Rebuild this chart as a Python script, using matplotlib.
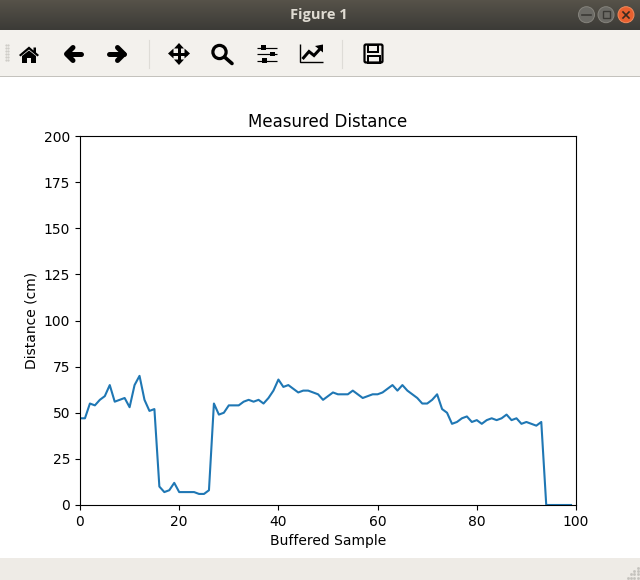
import numpy as np
import matplotlib
matplotlib.use('Agg')
import matplotlib.pyplot as plt
from matplotlib.patches import Circle, Polygon, Rectangle, FancyBboxPatch

# distance readings
distance = [47, 47, 55, 54, 57, 59, 65, 56, 57, 58,
            53, 65, 70, 57, 51, 52, 10, 7, 8, 12,
            7, 7, 7, 7, 6, 6, 8, 55, 49, 50,
            54, 54, 54, 56, 57, 56, 57, 55, 58, 62,
            68, 64, 65, 63, 61, 62, 62, 61, 60, 57,
            59, 61, 60, 60, 60, 62, 60, 58, 59, 60,
            60, 61, 63, 65, 62, 65, 62, 60, 58, 55,
            55, 57, 60, 52, 50, 44, 45, 47, 48, 45,
            46, 44, 46, 47, 46, 47, 49, 46, 47, 44,
            45, 44, 43, 45, 0, 0, 0, 0, 0, 0]
samples = list(range(len(distance)))
chart_title = 'Measured Distance'
x_label = 'Buffered Sample'
y_label = 'Distance (cm)'
window_title = 'Figure 1'

W, H = 640, 580
ICON = 'black'
PX = 0.72  # one pixel in points at dpi 100

fig = plt.figure(figsize=(W / 100, H / 100), dpi=100, facecolor='white')

# window chrome, in pixel coordinates
win = fig.add_axes([0, 0, 1, 1], zorder=0)
win.set_xlim(0, W)
win.set_ylim(H, 0)
win.axis('off')

grad = np.linspace(0, 1, 30).reshape(-1, 1)
win.imshow(grad, extent=[0, W, 30, 0], cmap=matplotlib.colors.LinearSegmentedColormap.from_list(
    'bar', ['#565249', '#3c3b37']), aspect='auto', zorder=1)
win.set_xlim(0, W)
win.set_ylim(H, 0)
win.add_patch(Rectangle((0, 30), W, 46, fc='#f3f1ed', ec='none', zorder=1))
win.add_patch(Rectangle((0, 76), W, 1, fc='#c4c2bd', ec='none', zorder=1))
win.add_patch(Rectangle((0, 558), W, 22, fc='#eeebe6', ec='none', zorder=1))
win.text(319, 15, window_title, color='#dfdbd2', fontsize=10.5, fontweight='bold',
         family='Open Sans', ha='center', va='center', zorder=3)

for cx, col, ec in [(586.5, '#6b6a65', '#85837c'), (606, '#6b6a65', '#85837c'), (626, '#e9602f', '#f08a5d')]:
    win.add_patch(Circle((cx, 14.7), 8, fc=col, ec=ec, lw=0.7, zorder=3))
win.plot([582, 591], [15, 15], color='#3a3935', lw=1.2, zorder=4)
win.add_patch(Rectangle((602.5, 11), 7, 7, fc='none', ec='#3a3935', lw=1, zorder=4))
win.plot([623, 629], [12, 18], color='#3a2a20', lw=1.2, zorder=4)
win.plot([623, 629], [18, 12], color='#3a2a20', lw=1.2, zorder=4)

# grip and separators
for yy in range(45, 62, 3):
    win.plot([5.5, 8], [yy, yy], ls='none', marker='s', ms=0.6, color='#cfcdc8', zorder=3)
for sx in [148.5, 342]:
    win.plot([sx, sx], [40, 68], color='#dedcd7', lw=0.8, zorder=3)
for i in range(4):
    for j in range(i + 1):
        win.plot(637.5 - 3.2 * j, 577.5 - 3.2 * (i - j), ls='none', marker='s', ms=0.9,
                 color='#c4c2bd', zorder=3)


def stroke(xs, ys, w=2, cap='butt', join='miter'):
    win.plot(xs, ys, color=ICON, lw=w * PX, solid_capstyle=cap, solid_joinstyle=join, zorder=4)


def solid(pts):
    win.add_patch(Polygon(pts, closed=True, fc=ICON, ec='none', zorder=4))


# home
solid([(19, 55), (29, 46.5), (33.5, 50.5), (33.5, 47.5), (36, 47.5), (36, 52.5), (39, 55),
       (37.5, 56.5), (29, 49.5), (20.5, 56.5)])
solid([(22, 56), (29, 50.5), (36, 56), (36, 63), (31, 63), (31, 58), (27, 58), (27, 63), (22, 63)])
# back and forward
stroke([67, 81], [54, 54], 5, 'round')
stroke([73, 66.5, 73], [47.5, 54, 60.5], 5, 'round', 'round')
stroke([109, 124], [54, 54], 5, 'round')
stroke([117.5, 124, 117.5], [47.5, 54, 60.5], 5, 'round', 'round')
# pan
stroke([171, 187], [53.5, 53.5], 3)
stroke([179, 179], [46, 62], 3)
solid([(179, 43), (184, 48.5), (174, 48.5)])
solid([(179, 65), (184, 59.5), (174, 59.5)])
solid([(168, 53.5), (173.5, 48.5), (173.5, 58.5)])
solid([(190, 53.5), (184.5, 48.5), (184.5, 58.5)])
# zoom
win.add_patch(Circle((219.5, 52), 6.6, fc='none', ec=ICON, lw=3.2 * PX, zorder=4))
stroke([224.5, 232], [57, 63.5], 3.6, 'round')
# subplots config
for yy, kx in [(47.5, 263.5), (54, 272.5), (60.5, 264)]:
    stroke([257, 277], [yy, yy], 1.2)
    win.add_patch(Rectangle((kx - 2.5, yy - 2.3), 5, 4.6, fc=ICON, ec='none', zorder=4))
# figure options
stroke([300, 300, 323], [44, 62, 62], 1.4)
stroke([302.5, 309, 314, 320], [59, 51.5, 55.5, 49], 3, 'butt', 'miter')
solid([(315, 46), (323, 44.5), (323, 52.5)])
# save
win.add_patch(FancyBboxPatch((364.5, 44.5), 18, 18, boxstyle='round,pad=0,rounding_size=1.5',
                             fc='none', ec=ICON, lw=2.2 * PX, zorder=4))
win.add_patch(Rectangle((368, 45), 9.5, 6.5, fc='none', ec=ICON, lw=2 * PX, zorder=4))
win.add_patch(Rectangle((367.5, 55.5), 12, 7, fc='none', ec=ICON, lw=2 * PX, zorder=4))

# the chart itself
ax = fig.add_axes([80 / W, 1 - 505 / H, 496 / W, 369 / H], zorder=2)
ax.plot(samples, distance)
ax.set_xlim(0, 100)
ax.set_ylim(0, 200)
ax.set_title(chart_title, pad=6.7)
ax.set_xlabel(x_label)
ax.set_ylabel(y_label)

fig.savefig('out.png', dpi=100)
